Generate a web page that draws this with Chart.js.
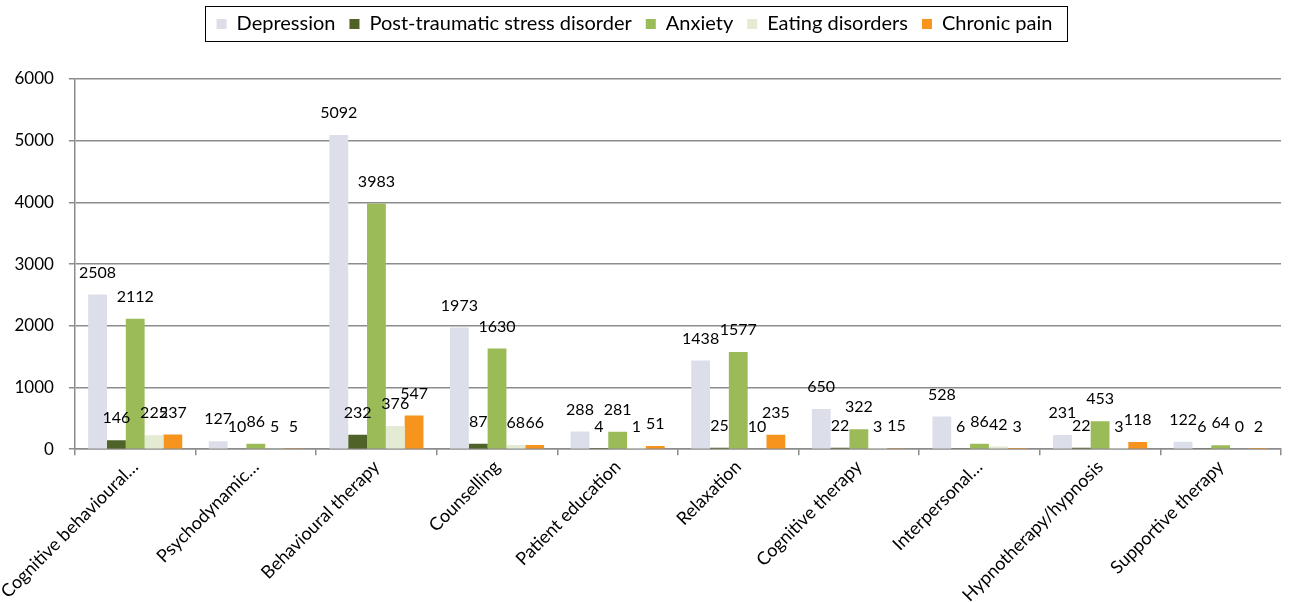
<!DOCTYPE html>
<html>
<head>
<meta charset="utf-8">
<script src="https://cdn.jsdelivr.net/npm/chart.js@4/dist/chart.umd.min.js"></script>
<style>
  html, body { margin: 0; padding: 0; background: #fff; }
  #wrap { width: 1296px; height: 602px; }
</style>
</head>
<body>
<div id="wrap"><canvas id="mycanvas"></canvas></div>
<script>
var categories = ['Cognitive behavioural\u2026', 'Psychodynamic\u2026', 'Behavioural therapy', 'Counselling',
  'Patient education', 'Relaxation', 'Cognitive therapy', 'Interpersonal\u2026',
  'Hypnotherapy/hypnosis', 'Supportive therapy'];

var depression = [2508, 127, 5092, 1973, 288, 1438, 650, 528, 231, 122];
var ptsd       = [146, 10, 232, 87, 4, 25, 22, 6, 22, 6];
var anxiety    = [2112, 86, 3983, 1630, 281, 1577, 322, 86, 453, 64];
var eating     = [225, 5, 376, 68, 1, 10, 3, 42, 3, 0];
var chronic    = [237, 5, 547, 66, 51, 235, 15, 3, 118, 2];

var yTicks = [0, 1000, 2000, 3000, 4000, 5000, 6000];

var FONT = 'Lato, "Open Sans", sans-serif';

// values above each bar
var valueLabels = {
  id: 'valueLabels',
  afterDatasetsDraw: function(chart) {
    var ctx = chart.ctx;
    ctx.save();
    ctx.font = '16px ' + FONT;
    ctx.fillStyle = '#000';
    ctx.textAlign = 'center';
    ctx.textBaseline = 'middle';
    chart.data.datasets.forEach(function(ds, i) {
      var meta = chart.getDatasetMeta(i);
      meta.data.forEach(function(bar, j) {
        ctx.fillText(String(ds.data[j]), bar.x, bar.y - 22);
      });
    });
    ctx.restore();
  }
};

// extra room under the legend
var legendMargin = {
  id: 'legendMargin',
  beforeInit: function(chart) {
    var fit = chart.legend.fit;
    chart.legend.fit = function() {
      fit.bind(chart.legend)();
      this.height += 35;
    };
  }
};

// box round the legend
var legendBorder = {
  id: 'legendBorder',
  afterDraw: function(chart) {
    var lg = chart.legend;
    if (!lg || !lg.legendHitBoxes.length) return;
    var boxes = lg.legendHitBoxes;
    var left = boxes[0].left, right = 0, top = boxes[0].top, bottom = 0;
    boxes.forEach(function(b) {
      left = Math.min(left, b.left);
      right = Math.max(right, b.left + b.width);
      top = Math.min(top, b.top);
      bottom = Math.max(bottom, b.top + b.height);
    });
    var ctx = chart.ctx;
    ctx.save();
    ctx.strokeStyle = '#000';
    ctx.lineWidth = 1;
    ctx.strokeRect(Math.round(left - 12) + 0.5, Math.round(top - 8) + 0.5,
      Math.round(right - left + 26), Math.round(bottom - top + 15));
    ctx.restore();
  }
};

var chardata = {
  labels: categories,
  datasets: [
    { label: 'Depression', backgroundColor: '#dcdfe9', data: depression },
    { label: 'Post-traumatic stress disorder', backgroundColor: '#4f6228', data: ptsd },
    { label: 'Anxiety', backgroundColor: '#9bbb59', data: anxiety },
    { label: 'Eating disorders', backgroundColor: '#e4ebd3', data: eating },
    { label: 'Chronic pain', backgroundColor: '#f7941d', data: chronic }
  ]
};

var graph = new Chart(document.getElementById('mycanvas'), {
  type: 'bar',
  data: chardata,
  plugins: [valueLabels, legendMargin, legendBorder],
  options: {
    responsive: true,
    maintainAspectRatio: false,
    animation: false,
    devicePixelRatio: 1,
    layout: { padding: { left: -12, right: 15, top: 0, bottom: -5 } },
    datasets: { bar: { categoryPercentage: 0.78, barPercentage: 1.0 } },
    plugins: {
      tooltip: { enabled: false },
      legend: {
        position: 'top',
        labels: {
          color: '#000',
          font: { family: FONT, size: 20 },
          boxWidth: 10,
          boxHeight: 10,
          padding: 14
        }
      }
    },
    scales: {
      x: {
        grid: { display: true, offset: true, drawOnChartArea: false, color: '#8c8c8c', lineWidth: 1.5, tickLength: 6 },
        border: { color: '#8c8c8c', width: 1.5 },
        ticks: {
          color: '#000',
          font: { family: FONT, size: 18 },
          minRotation: 45,
          maxRotation: 45,
          autoSkip: false,
          padding: 1
        }
      },
      y: {
        min: 0,
        max: 6000,
        afterBuildTicks: function(axis) {
          axis.ticks = yTicks.map(function(v) { return { value: v }; });
        },
        grid: { color: '#8c8c8c', lineWidth: 1.5, tickLength: 6 },
        border: { color: '#8c8c8c', width: 1.5 },
        ticks: {
          color: '#000',
          font: { family: FONT, size: 17 },
          padding: 15,
          callback: function(v) { return String(v); }
        }
      }
    }
  }
});
</script>
</body>
</html>
